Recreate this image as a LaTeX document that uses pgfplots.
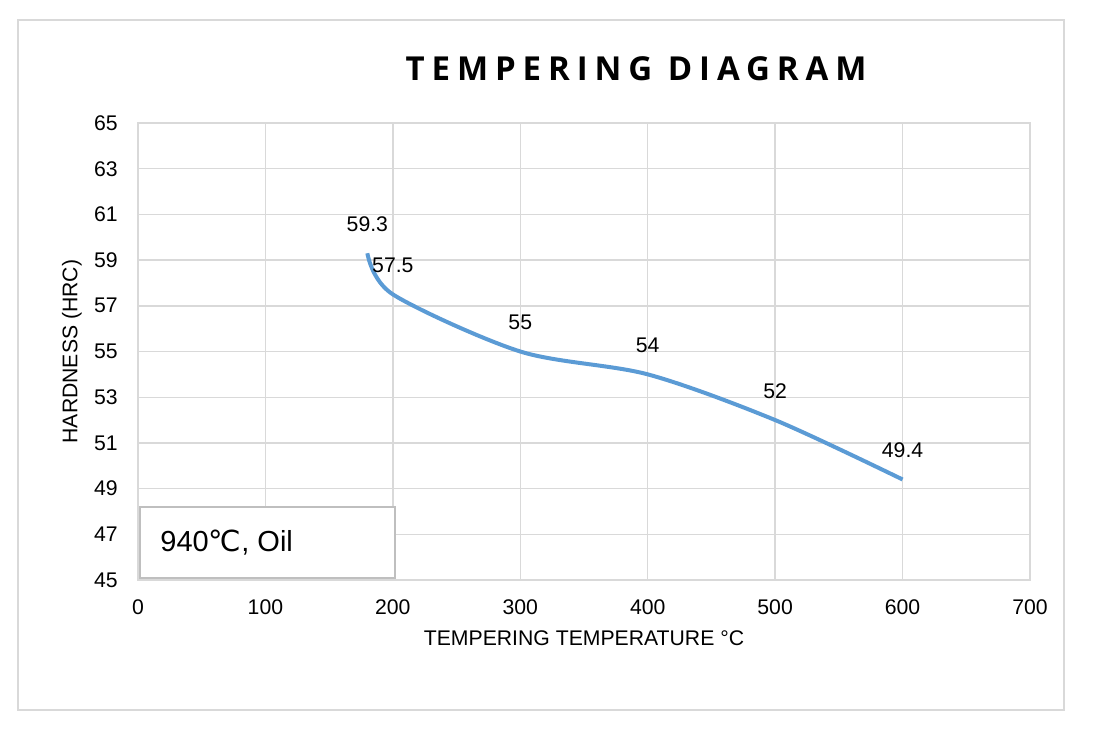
\documentclass[border=0pt]{standalone}
\usepackage{fontspec}
\setmainfont{Liberation Sans}
\newfontfamily\titlefont[LetterSpace=21]{Open Sans}
\newfontfamily\djv{DejaVu Sans}
\usepackage{pgfplots}
\pgfplotsset{compat=1.18}
\definecolor{gridgray}{HTML}{D9D9D9}
\definecolor{boxgray}{HTML}{BFBFBF}
\definecolor{lineblue}{HTML}{5B9BD5}
\begin{document}
\begin{tikzpicture}
\fill[white] (0,0) rectangle (547.5pt,367.5pt);
\draw[gridgray, line width=1pt] (9pt,12.5pt) rectangle (532pt,357.5pt);
\begin{axis}[
  at={(69pt,77.5pt)}, anchor=south west,
  scale only axis, width=446pt, height=228.5pt,
  xmin=0, xmax=700, ymin=45, ymax=65,
  xtick={0,100,...,700}, ytick={45,47,...,65},
  grid=major, major grid style={gridgray, line width=0.7pt},
  axis line style={gridgray, line width=0.7pt},
  tick style={draw=none},
  /pgf/number format/assume math mode=true,
  tick label style={font=\fontsize{10.6}{12}\selectfont, inner sep=0pt},
  xticklabel style={anchor=north, yshift=-9.5pt},
  yticklabel style={anchor=east, xshift=-10pt},
  xlabel={TEMPERING TEMPERATURE °C},
  ylabel={HARDNESS (HRC)},
  label style={font=\fontsize{10.6}{12}\selectfont},
  xlabel style={at={(axis description cs:0.5,0)}, anchor=center, yshift=-29pt},
  ylabel style={at={(axis description cs:-0.074,0.5)}, anchor=center},
  clip=false,
]
\addplot[lineblue, line width=2pt, smooth,
  nodes near coords, point meta=y,
  every node near coord/.append style={font=\fontsize{10.6}{12}\selectfont, text=black, anchor=center, yshift=14.5pt}]
  coordinates {(180,59.3) (200,57.5) (300,55) (400,54) (500,52) (600,49.4)};
\draw[boxgray, fill=white, line width=0.9pt] (axis cs:1.6,45.09) rectangle (axis cs:201.7,48.19);
\node[anchor=west, inner sep=0pt, font=\fontsize{14.5}{16}\selectfont] at (axis cs:17.3,46.62) {940{\djv ℃}, Oil};
\end{axis}
\node[font=\titlefont\bfseries\fontsize{16.5}{20}\selectfont] at (318pt,333pt) {TEMPERING DIAGRAM};
\end{tikzpicture}
\end{document}
